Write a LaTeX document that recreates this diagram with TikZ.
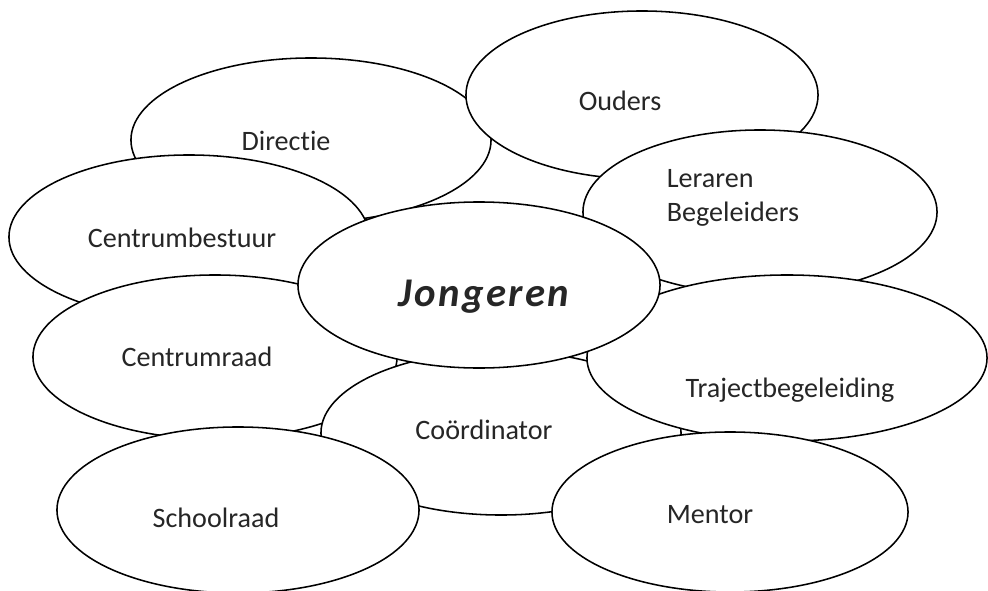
\documentclass[tikz,border=0pt]{standalone}
\usepackage{fontspec}
\setmainfont[Ligatures=CommonOff]{Carlito}
\newfontfamily\jongfont[LetterSpace=6]{Carlito}
\usepackage{xcolor}
\usepackage{tikz}
\usetikzlibrary{shapes.geometric, positioning}

\begin{document}
\begin{tikzpicture}[
  x=0.025cm, y=-0.025cm,
  bubble/.style={
    draw,
    ellipse,
    fill=white,
    line width=1.1pt,
    minimum width=9cm,
    minimum height=4.1cm,
    inner sep=0pt,
    outer sep=0pt
  },
  txt/.style={
    font=\fontsize{20}{24}\selectfont,
    text=black!85,
    inner sep=0pt
  }
]
\useasboundingbox (0,0) rectangle (988,591);

% Ellipses, back to front
\node [bubble] (dir) at (311,140) {};
\node [bubble, minimum width=8.8cm, minimum height=4.2cm] (oud) at (642,95) {};
\node [bubble, minimum width=8.85cm] (ler) at (760,212) {};
\node [bubble] (cbest) at (189,237) {};
\node [bubble, minimum width=9.1cm] (craad) at (215,357) {};
\node [bubble] (coord) at (501,433) {};
\node [bubble, minimum width=10cm, minimum height=4.15cm] (traj) at (787,358) {};
\node [bubble, minimum width=8.9cm, minimum height=4cm] (ment) at (730,512) {};
\node [bubble, minimum width=9.05cm, minimum height=4.15cm] (sraad) at (238,510) {};
\node [bubble, minimum width=9.05cm, minimum height=4.15cm] (jong) at (479,285) {};

% Labels
\node [txt] (dirT) at (286,141) {Directie};
\node [txt] (oudT) at (620,101) {Ouders};
\node [txt, align=left] (lerT) at (733,198) {Leraren\\Begeleiders};
\node [txt] (cbestT) at (182,238) {Centrumbestuur};
\node [txt] (craadT) at (197,357) {Centrumraad};
\node [txt] (coordT) at (484,430) {Coördinator};
\node [txt] (trajT) at (790,390) {Trajectbegeleiding};
\node [txt] (mentT) at (710,515) {Mentor};
\node [txt] (sraadT) at (216,518) {Schoolraad};
\node [txt, font=\jongfont\fontsize{29}{32}\selectfont\bfseries\itshape] (jongT) at (484,297) {Jongeren};

\end{tikzpicture}
\end{document}
